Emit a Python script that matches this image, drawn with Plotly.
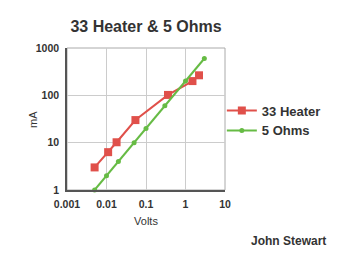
import plotly.graph_objects as go

volts_heater = [0.005, 0.011, 0.018, 0.054, 0.36, 1.5, 2.2]
ma_heater = [3, 6.3, 10.2, 30, 102, 200, 265]
volts_5ohm = [0.005, 0.01, 0.02, 0.05, 0.1, 0.3, 1, 3]
ma_5ohm = [1, 2, 4, 10, 20, 60, 200, 600]
x_ticks = [0.001, 0.01, 0.1, 1, 10]
x_tick_labels = ["0.001", "0.01", "0.1", "1", "10"]
y_ticks = [1, 10, 100, 1000]
y_tick_labels = ["1", "10", "100", "1000"]

FONT = "Liberation Sans, Arial, sans-serif"
TXT = "#333333"

fig = go.Figure()
fig.add_trace(go.Scatter(
    x=volts_heater, y=ma_heater, name="<b>33 Heater</b>", mode="lines+markers",
    line=dict(color="#e0504a", width=2),
    marker=dict(symbol="square", size=8, color="#e0504a"),
    cliponaxis=False))
fig.add_trace(go.Scatter(
    x=volts_5ohm, y=ma_5ohm, name="<b>5 Ohms</b>", mode="lines+markers",
    line=dict(color="#66bb44", width=2),
    marker=dict(symbol="circle", size=5, color="#66bb44"),
    cliponaxis=False))

fig.update_layout(
    width=360, height=275,
    margin=dict(l=67, r=135, t=48, b=85),
    paper_bgcolor="white", plot_bgcolor="white",
    font=dict(family=FONT, color=TXT),
    title=dict(text="<b>33 Heater & 5 Ohms</b>", x=146/360, xanchor="center",
               y=1 - 26/275, yanchor="middle", font=dict(size=16, color=TXT)),
    legend=dict(x=0.98, xanchor="left", y=0.665, yanchor="top",
                font=dict(size=13, color=TXT), itemwidth=30,
                bgcolor="rgba(0,0,0,0)", tracegroupgap=0),
    xaxis=dict(type="log", range=[-3, 1], tickvals=x_ticks, ticktext=x_tick_labels,
               showgrid=True, gridcolor="#cccccc", gridwidth=1,
               showline=True, linecolor="#555555", linewidth=1.5,
               ticks="outside", ticklen=4, tickcolor="rgba(0,0,0,0)",
               tickfont=dict(size=10.5, color=TXT, weight="bold"),
               title=dict(text="Volts", font=dict(size=11, color=TXT), standoff=8),
               zeroline=False),
    yaxis=dict(type="log", range=[0, 3], tickvals=y_ticks, ticktext=y_tick_labels,
               showgrid=True, gridcolor="#cccccc", gridwidth=1,
               showline=True, linecolor="#555555", linewidth=1.5,
               ticks="outside", ticklen=4, tickcolor="rgba(0,0,0,0)",
               tickfont=dict(size=10.5, color=TXT, weight="bold"),
               zeroline=False),
    showlegend=True,
)
fig.add_shape(type="rect", xref="paper", yref="paper", x0=0, y0=0, x1=1, y1=1,
              line=dict(color="#aaaaaa", width=1), layer="below")
fig.add_annotation(text="mA", xref="paper", yref="paper",
                   x=(33 - 67) / 158, y=(190 - 120) / 142, showarrow=False,
                   textangle=-90, xanchor="center", yanchor="middle",
                   font=dict(size=11, color=TXT))
fig.add_annotation(text="<b>John Stewart</b>", xref="paper", yref="paper",
                   x=(288 - 67) / 158, y=(190 - 241) / 142, showarrow=False,
                   xanchor="center", yanchor="middle",
                   font=dict(size=12, color=TXT))
fig.write_html("out.html")
